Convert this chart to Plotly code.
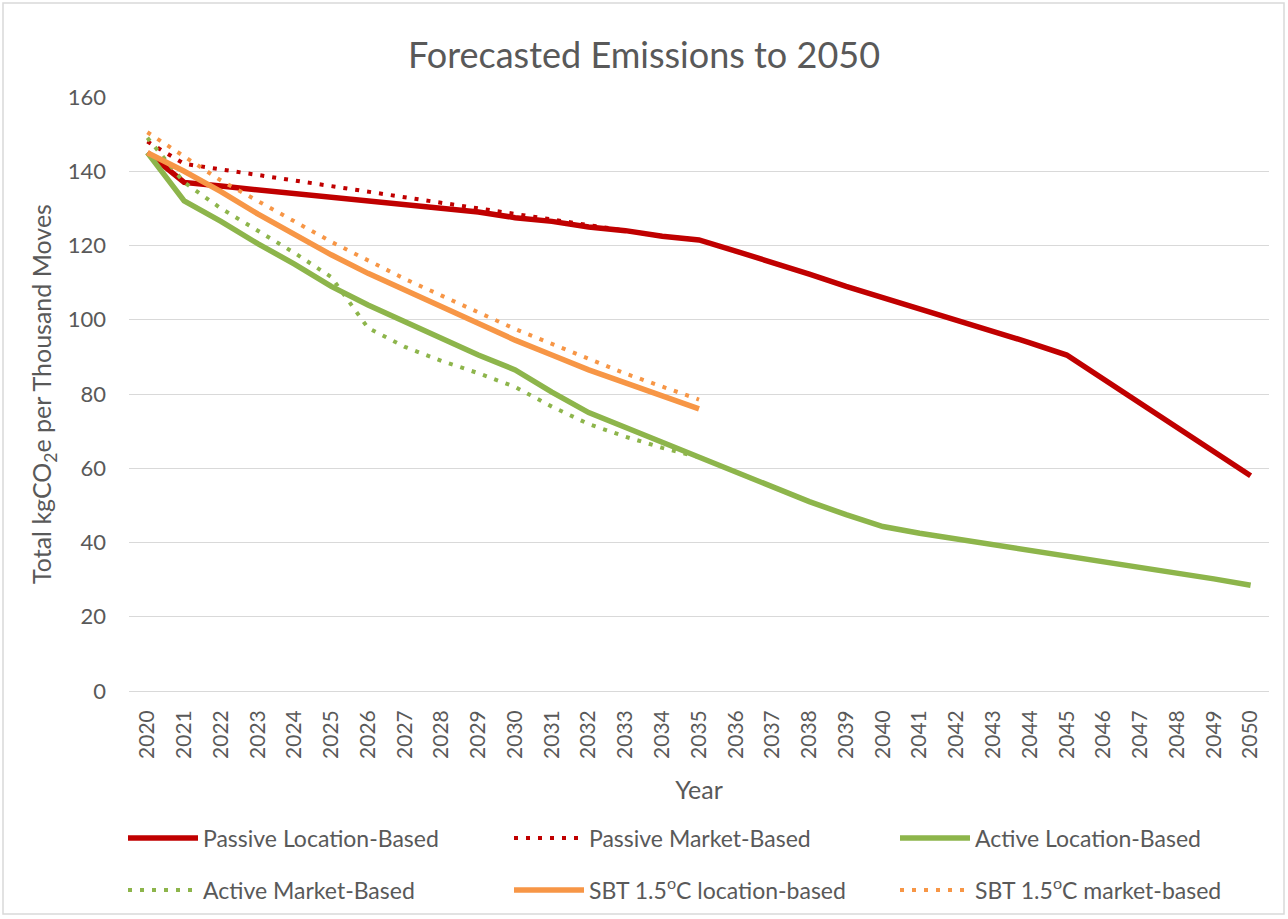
import plotly.graph_objects as go

years = [str(y) for y in range(2020, 2051)]
years_to_2035 = [str(y) for y in range(2020, 2036)]
y_ticks = [0, 20, 40, 60, 80, 100, 120, 140, 160]

# values
passive_location = [145, 137, 136, 135, 134, 133, 132, 131, 130, 129, 127.5, 126.5, 125, 124, 122.5, 121.5,
                    118.5, 115.5, 112.3, 109, 106, 103, 100, 97, 93.8, 90.5,
                    84, 77.5, 71, 64.5, 58]
passive_market = [148, 142, 140.5, 139, 137.5, 136, 134.5, 133, 131.5, 130, 128.5, 127, 125.5, 124, 122.5, 121.5]
active_location = [145, 132, 126.5, 120.5, 115, 109, 104, 99.5, 95, 90.5, 86.5, 80.5, 75, 71, 67, 63,
                   59, 55, 51, 47.5, 44.3, 42.5, 41, 39.5, 38, 36.5, 35, 33.3, 31.8, 30.2, 28.5]
active_market = [149, 137, 130, 124, 118, 111.5, 97.8, 92.7, 88.9, 85.6, 81.9, 76.6, 71.9, 68.5, 65.5, 63]
sbt_location = [145, 140, 134.5, 128.5, 123, 117.5, 112.5, 108, 103.5, 99, 94.5, 90.5, 86.5, 83, 79.5, 76]
sbt_market = [150.5, 144, 137.5, 132, 126.5, 121, 116, 111, 106.5, 102, 97.5, 93.5, 89.5, 85.5, 82, 78.5]

RED = "#C00000"
GREEN = "#8DB54B"
ORANGE = "#F79646"
GREY = "#595959"
FONT = "Lato, 'Open Sans', sans-serif"
DOT = "4px,8px"

L, R, T, B = 129, 19, 97, 228
W, H = 1288, 919
pw, ph = W - L - R, H - T - B


def px_to_paper_x(px):
    return (px - L) / pw


def px_to_paper_y(py):
    return (H - B - py) / ph


fig = go.Figure()

series = [
    ("Passive Location-Based", years, passive_location, RED, 5.5, None, "legend", 123, 838),
    ("Passive Market-Based", years_to_2035, passive_market, RED, 4, DOT, "legend2", 509, 838),
    ("Active Location-Based", years, active_location, GREEN, 5.5, None, "legend3", 895, 838),
    ("Active Market-Based", years_to_2035, active_market, GREEN, 4, DOT, "legend4", 123, 890),
    ("SBT 1.5<sup>o</sup>C location-based", years_to_2035, sbt_location, ORANGE, 5.5, None, "legend5", 509, 890),
    ("SBT 1.5<sup>o</sup>C market-based", years_to_2035, sbt_market, ORANGE, 4, DOT, "legend6", 895, 890),
]

legends = {}
for name, xs, ys, color, width, dash, leg, lx, ly in series:
    line = dict(color=color, width=width)
    if dash:
        line["dash"] = dash
    fig.add_trace(go.Scatter(x=xs, y=ys, mode="lines", name=name, line=line, legend=leg))
    legends[leg] = dict(orientation="h", xanchor="left", yanchor="middle",
                        x=px_to_paper_x(lx), y=px_to_paper_y(ly), itemwidth=70,
                        font=dict(family=FONT, size=23, color=GREY), bgcolor="rgba(0,0,0,0)")

fig.update_layout(
    width=W, height=H,
    margin=dict(l=L, r=R, t=T, b=B, autoexpand=False),
    paper_bgcolor="white", plot_bgcolor="white",
    font=dict(family=FONT, color=GREY),
    title=dict(text="Forecasted Emissions to 2050", x=0.5, xanchor="center", xref="container",
               y=1 - 55 / H, yanchor="middle", yref="container", automargin=False,
               font=dict(family=FONT, size=36, color=GREY)),
    showlegend=True,
    xaxis=dict(type="category", categoryorder="array", categoryarray=years,
               range=[-0.5, len(years) - 0.5], automargin=False,
               tickangle=-90, showgrid=False, showline=False, ticks="",
               ticklabelstandoff=14,
               tickfont=dict(family=FONT, size=21, color=GREY),
               title=dict(text="Year", font=dict(family=FONT, size=25, color=GREY), standoff=23),
               fixedrange=True),
    yaxis=dict(range=[0, 160], tickvals=y_ticks, automargin=False,
               showgrid=True, gridcolor="#D9D9D9", gridwidth=1.3, zeroline=True,
               zerolinecolor="#D9D9D9", zerolinewidth=1.3, showline=False, ticks="",
               ticklabelstandoff=22,
               tickfont=dict(family=FONT, size=22, color=GREY),
               title=dict(text="Total kgCO<sub>2</sub>e per Thousand Moves",
                          font=dict(family=FONT, size=25, color=GREY), standoff=8),
               fixedrange=True),
    shapes=[dict(type="rect", xref="paper", yref="paper",
                 x0=px_to_paper_x(3), x1=px_to_paper_x(1284),
                 y0=px_to_paper_y(914), y1=px_to_paper_y(3),
                 line=dict(color="#D9D9D9", width=1.5), fillcolor="rgba(0,0,0,0)", layer="below")],
    **legends,
)

fig.write_html("out.html", config={"displayModeBar": False},
               post_script="document.body.style.margin='0';")
